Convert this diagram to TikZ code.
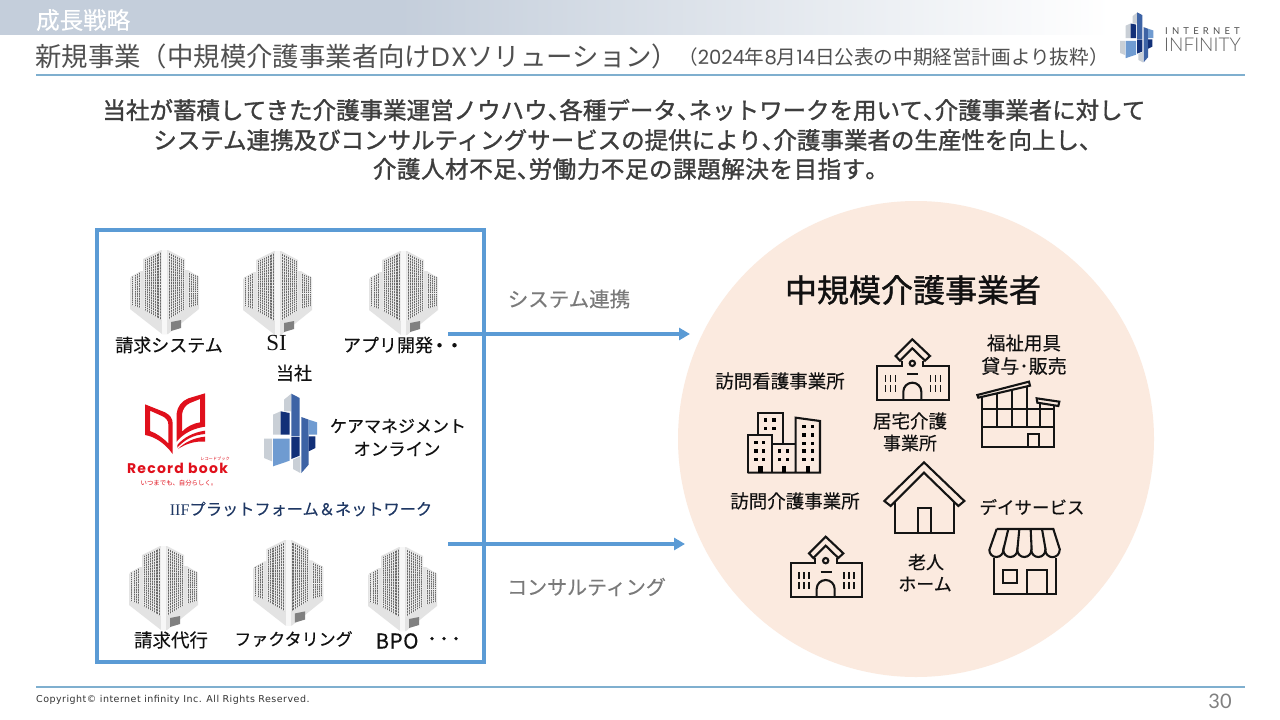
\documentclass[tikz,border=0pt]{standalone}
\usepackage{fontspec}
\setmainfont{Noto Sans CJK JP}
\newfontfamily\labf{Noto Sans CJK JP}[FakeBold=0.3]
\newfontfamily\medf{Noto Sans CJK JP}[FakeBold=1.3]
\newfontfamily\latinserif{Liberation Serif}
\newfontfamily\recf{Poppins}
\newfontfamily\copyf{DejaVu Sans}
\newfontfamily\logof{Lato}
\newfontfamily\logol{Lato Light}
\usetikzlibrary{arrows.meta,calc}
\definecolor{bluebox}{HTML}{5B9BD5}
\definecolor{navyt}{HTML}{1F3864}
\definecolor{ink}{HTML}{111111}
\definecolor{greyt}{HTML}{505050}
\definecolor{rulec}{HTML}{7FAFCF}
\definecolor{peach}{HTML}{FBEADF}
\definecolor{recred}{HTML}{E0101C}
\definecolor{lgA}{HTML}{C9CFD6}
\definecolor{lbA}{HTML}{6F9BD1}
\definecolor{mbA}{HTML}{3D63A5}
\definecolor{nvA}{HTML}{123078}
\definecolor{bandc}{HTML}{C4CEDB}
\pgfdeclarehorizontalshading{bandshade}{100bp}{color(0bp)=(bandc); color(25bp)=(bandc); color(43bp)=(bandc); color(75bp)=(white); color(100bp)=(white)}
\newcommand\fs[1]{\fontsize{#1}{#1}\selectfont}
\newcommand\pn[1]{\makebox[.5em][l]{#1}}
\tikzset{
  lbl/.style={inner sep=0pt,text=ink,anchor=center,font=\labf},
  lead/.style={inner sep=0pt,anchor=center,text=black!76,font=\medf},
  icon/.style={draw=black!92,line width=2.1pt,line join=miter,fill=none},
  flow/.style={draw=bluebox,line width=3.4pt,-{Triangle[length=11pt,width=12pt]}},
  footrule/.style={draw=rulec,line width=1.1pt},
}
% one face of a building
\newcommand\bface[8]{%
  \fill[black!60] (#1,#2)--(#3,#4)--(#3,#6)--(#1,#5)--cycle;
  \foreach \i in {0,...,#7}{%
    \pgfmathsetmacro\xx{#1+(#3-#1)*\i/#7}%
    \pgfmathsetmacro\yt{#2+(#4-#2)*\i/#7}%
    \pgfmathsetmacro\yb{#5+(#6-#5)*\i/#7}%
    \draw[black!8,line width=.55pt] (\xx,\yt)--(\xx,\yb);}
  \foreach \i in {0,...,#8}{%
    \pgfmathsetmacro\yl{#2+(#5-#2)*\i/#8}%
    \pgfmathsetmacro\yr{#4+(#6-#4)*\i/#8}%
    \draw[black!8,line width=.55pt] (#1,\yl)--(#3,\yr);}
}
\newcommand\bldg[3]{%
\begin{scope}[shift={(#1,#2)},scale=#3]
  \fill[black!11] (0,28)--(11,21)--(13,21)--(13,9)--(31,0)--(38,0)--(55,9)--(55,20)--(58,20)--(69,27)--(69,59)--(38,84)--(32,84)--(0,59)--cycle;
  \fill[black!3] (32,0)--(37,0)--(37,84)--(32,84)--cycle;
  \bface{1}{27}{10}{22}{55}{58}{5}{14}
  \bface{14}{10}{31}{2}{60}{70}{8}{23}
  \bface{38}{2}{54}{10}{70}{60}{8}{23}
  \bface{58}{22}{68}{26}{58}{55}{5}{14}
  \fill[black!50] (41,72)--(51,70)--(51,78)--(41,81)--cycle;
\end{scope}}
% company logo, drawn in the coordinates of a 3x crop
\newcommand\iiflogo[3]{%
\begin{scope}[shift={(#1,#2)},scale=#3]
\begin{scope}[scale=1/3,shift={(-463,-40)}]
  \fill[lgA] (523,60)--(545,42)--(545,95)--(523,95)--cycle;
  \fill[lgA] (490,105)--(513,95)--(513,165)--(490,165)--cycle;
  \fill[nvA] (513,95)--(540,100)--(540,165)--(513,165)--cycle;
  \fill[mbA] (545,42)--(570,55)--(570,170)--(545,170)--cycle;
  \fill[mbA] (575,112)--(597,120)--(597,255)--(575,280)--cycle;
  \fill[lbA] (597,120)--(622,128)--(622,165)--(597,165)--cycle;
  \fill[nvA] (597,170)--(617,170)--(617,205)--(597,215)--cycle;
  \fill[nvA] (545,172)--(570,172)--(570,228)--(545,238)--cycle;
  \fill[lbA] (490,177)--(540,177)--(540,243)--(490,260)--cycle;
  \fill[lgA] (463,177)--(487,177)--(487,245)--(463,235)--cycle;
  \fill[lgA] (550,240)--(572,230)--(572,280)--(550,268)--cycle;
\end{scope}
\end{scope}}
% school icon, drawn in crop coordinates
\newcommand\school[2]{%
\begin{scope}[shift={(#1,#2)}]
  \draw[icon] (587,108)--(637,58)--(690,108)--(675,122)--(637,85)--(600,122)--cycle;
  \draw[icon] (605,122)--(605,138)--(532,138)--(532,240)--(747,240)--(747,138)--(670,138)--(670,122);
  \draw[icon] (637,130) circle (8);
  \draw[icon] (622,163)--(655,163);
  \draw[icon] (610,240)--(610,215) arc[start angle=180,end angle=360,radius=27] --(664,240);
  \foreach \x in {557,572,587,692,707,722}{%
    \draw[draw=black!92,line width=1.4pt] (\x,165)--(\x,185);
    \draw[draw=black!92,line width=1.4pt] (\x,195)--(\x,215);}
\end{scope}}
\begin{document}
\begin{tikzpicture}[x=1pt,y=-1pt]
\useasboundingbox (0,0) rectangle (1280,720);
\fill[white] (0,0) rectangle (1280,720);
% header
\shade[shading=bandshade,draw=none] (0,0) rectangle (1110,34);
\node[lbl,anchor=west,text=white] (section) at (36,20) {\fs{23.5}成長戦略};
\node[lbl,anchor=west,text=greyt,font=\normalfont] (title) at (35,56) {\fs{26.4}新規事業（中規模介護事業者向け{\recf\addfontfeature{LetterSpace=5}DX}ソリューション）};
\node[lbl,anchor=west,text=greyt,font=\normalfont] (subtitle) at (678,57) {\fs{19.6}（{\recf 2024}年{\recf 8}月{\recf 14}日公表の中期経営計画より抜粋）};
\coordinate (ruleL) at (36,75); \coordinate (ruleR) at (1245,75);
\draw[footrule] (ruleL)--(ruleR);
\iiflogo{1120}{12}{0.63}
\node[lbl,anchor=west,text=greyt,font=\normalfont] (logoA) at (1165,31) {\fs{9.5}\logof\addfontfeature{LetterSpace=44}INTERNET};
\node[lbl,anchor=west,text=black!62,font=\normalfont] (logoB) at (1164,45) {\fs{19}\logol INFINITY};
% lead text
\node[lead] (leadA) at (624,110) {\fs{23.5}当社が蓄積してきた介護事業運営ノウハウ\pn{、}各種データ\pn{、}ネットワークを用いて\pn{、}介護事業者に対して};
\node[lead] (leadB) at (622,140) {\fs{23.5}システム連携及びコンサルティングサービスの提供により\pn{、}介護事業者の生産性を向上し\pn{、}};
\node[lead] (leadC) at (625,169) {\fs{23.5}\addfontfeature{LetterSpace=2.5}介護人材不足\pn{、}労働力不足の課題解決を目指す\pn{。}};
% left box
\node[draw=bluebox,line width=4pt,minimum width=387pt,minimum height=432pt,inner sep=0pt] (platform) at (290.5,446) {};
\bldg{130}{250}{1}
\bldg{243}{251}{1}
\bldg{369}{251}{1}
\bldg{129}{546}{1}
\bldg{253}{540}{1.02}
\bldg{368}{547}{1}
\node[lbl] (a1) at (169,345) {\fs{18}請求システム};
\node[lbl,font=\latinserif] (a2) at (276.5,343) {\fs{23}SI};
\node[lbl] (a3) at (388,345) {\fs{18}アプリ開発};
\node[lbl] (a3b) at (447,347) {\fs{15}\bfseries ・・};
\node[lbl] (a4) at (294,373) {\fs{18}当社};
\node[lbl] (a5) at (398,426) {\fs{17}ケアマネジメント};
\node[lbl] (a6) at (397,449) {\fs{17.4}オンライン};
\node[lbl,text=navyt] (a7) at (301,509) {\fs{16.2}{\latinserif IIF}プラットフォーム＆ネットワーク};
\node[lbl] (a8) at (171,640) {\fs{18.5}請求代行};
\node[lbl] (a9) at (293.5,639) {\fs{17}ファクタリング};
\node[lbl] (a10) at (397,641) {\fs{20.5}\addfontfeature{LetterSpace=3}BPO};
\node[lbl] (a11) at (444,640) {\fs{12}\bfseries ・・・};
\iiflogo{264}{393}{1}
% Record book logo
\begin{scope}[shift={(120,385)},scale=1/3]
  \fill[recred,even odd rule] (75,58) -- (135,82) .. controls (150,90) and (158,100) .. (158,115) -- (158,207) .. controls (135,175) and (105,155) .. (75,150) -- cycle
     (90,77) -- (128,94) .. controls (138,99) and (145,107) .. (145,118) -- (145,175) .. controls (128,158) and (110,145) .. (90,138) -- cycle;
  \fill[recred,even odd rule] (255,25) -- (255,125) .. controls (220,130) and (190,145) .. (170,170) -- (170,85) .. controls (172,65) and (185,48) .. (205,40) -- cycle
     (240,42) -- (240,112) .. controls (220,115) and (200,125) .. (186,140) -- (186,88) .. controls (188,72) and (197,60) .. (210,54) -- cycle;
  \fill[recred] (172,180) .. controls (190,158) and (220,142) .. (255,137) -- (255,147) .. controls (220,150) and (195,163) .. (172,188) -- cycle;
  \fill[recred] (174,192) .. controls (195,170) and (225,158) .. (255,155) -- (255,170) .. controls (225,168) and (200,175) .. (174,192) -- cycle;
\end{scope}
\node[lbl,text=recred,font=\recf\bfseries] (rec1) at (177.5,468) {\fs{14}\addfontfeature{LetterSpace=9}Record book};
\node[lbl,text=recred,font=\normalfont] (rec2) at (215,458.5) {\fs{4.2}レコードブック};
\node[lbl,text=recred,font=\normalfont] (rec3) at (179,483) {\fs{6.4}いつまでも、自分らしく。};
% circle
\node[circle,fill=peach,minimum size=476pt,inner sep=0pt] (market) at (916,439) {};
\node[lbl,font=\medf] (m0) at (913,290) {\fs{32}中規模介護事業者};
\node[lbl] (m1) at (780,381) {\fs{18.5}訪問看護事業所};
\node[lbl] (m2) at (1024,343) {\fs{18.5}福祉用具};
\node[lbl] (m3) at (1024,366) {\fs{19}貸与･販売};
\node[lbl] (m4) at (910,421) {\fs{18.5}居宅介護};
\node[lbl] (m5) at (910,443) {\fs{18}事業所};
\node[lbl] (m6) at (795,501) {\fs{18.5}訪問介護事業所};
\node[lbl] (m7) at (1032,507) {\fs{17.5}デイサービス};
\node[lbl] (m8) at (926,562) {\fs{18}老人};
\node[lbl] (m9) at (925,584) {\fs{18}ホーム};
% arrows
\coordinate (s1) at (448,334); \coordinate (e1) at (690,334);
\coordinate (s2) at (448,544); \coordinate (e2) at (685,544);
\draw[flow] (s1)--(e1);
\draw[flow] (s2)--(e2);
\node[lbl,text=black!52] (f1) at (569,299) {\fs{20.5}システム連携};
\node[lbl,text=black!52] (f2) at (586.5,587) {\fs{20}コンサルティング};
% icons
\begin{scope}[shift={(700,320)},scale=1/3]
  \school{0}{0}
  \school{-260}{592}
  % apartment block
  \draw[icon] (175,345)--(175,278)--(250,278)--(250,372);
  \draw[icon] (143,458)--(143,345)--(215,345)--(215,458);
  \draw[icon] (215,372)--(287,372);
  \draw[icon] (287,458)--(287,293)--(360,303)--(360,458)--(143,458);
  \foreach \x/\y in {197/300,222/300,197/325,222/325,168/368,190/368,168/393,190/393,168/418,190/418,238/393,263/393,238/418,263/418,312/320,337/320,312/345,337/345,312/370,337/370,312/393,337/393,312/418,337/418}{%
    \fill[black] (\x-5,\y-5) rectangle (\x+5,\y+5);}
  \foreach \x in {175,245,318}{\fill[black] (\x,438) rectangle (\x+13,458);}
  % welfare shop
  \draw[icon] (832,225)--(987,185)--(990,197)--(835,233)--cycle;
  \draw[icon] (1010,235)--(1078,245)--(1075,258)--(1012,248)--cycle;
  \draw[icon] (845,232)--(845,380)--(1063,380)--(1063,255);
  \draw[icon] (845,268)--(1063,268) (845,320)--(1063,320);
  \draw[icon] (890,222)--(890,320) (935,210)--(935,320) (980,198)--(980,320) (1020,248)--(1020,320);
  \draw[icon] (985,380)--(985,342)--(1017,342)--(1017,380);
  % house
  \draw[icon] (553,543)--(672,427)--(793,543)--(775,558)--(672,458)--(572,558)--cycle;
  \draw[icon] (585,545)--(585,640)--(762,640)--(762,545);
  \draw[icon] (653,640)--(653,565)--(692,565)--(692,640);
  % store
  \draw[icon] (890,627)--(1060,627)--(1080,690);
  \draw[icon] (890,627)--(868,690) arc[start angle=180,end angle=0,radius=21] arc[start angle=180,end angle=0,radius=21] arc[start angle=180,end angle=0,radius=21] arc[start angle=180,end angle=0,radius=21] arc[start angle=180,end angle=0,radius=21.5];
  \draw[icon] (925,627)--(910,690) (958,627)--(952,690) (992,627)--(995,690) (1026,627)--(1037,690);
  \draw[icon] (882,715)--(882,822)--(1068,822)--(1068,715);
  \draw[icon] (908,750) rectangle (950,790);
  \draw[icon] (982,822)--(982,750)--(1040,750)--(1040,822);
\end{scope}
% footer
\coordinate (footL) at (36,687); \coordinate (footR) at (1245,687);
\draw[footrule] (footL)--(footR);
\node[lbl,anchor=west,text=black!80,font=\copyf] (copy) at (36,699.5) {\fs{9.5}\addfontfeature{LetterSpace=5}Copyright© internet infinity Inc. All Rights Reserved.};
\node[lbl,text=black!50,font=\logof] (page) at (1220,701) {\fs{20}30};
\end{tikzpicture}
\end{document}
